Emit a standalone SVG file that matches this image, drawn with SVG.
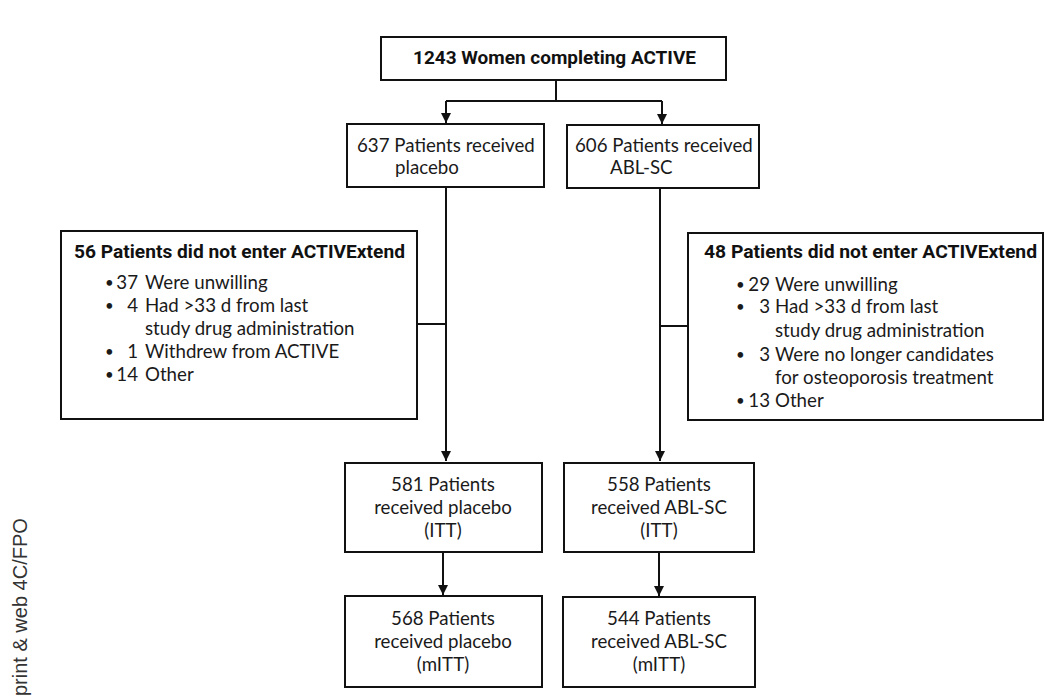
<svg xmlns="http://www.w3.org/2000/svg" width="1047" height="698" viewBox="0 0 1047 698">
<style>
.box{fill:#fff;stroke:#111;stroke-width:2}
.ln{fill:none;stroke:#111;stroke-width:2}
.t{font-family:Lato,"Open Sans","Liberation Sans",sans-serif;font-size:18.7px;fill:#1a1a1a}
.c{text-anchor:middle}
.b{font-family:Roboto,"Liberation Sans",sans-serif;font-weight:700;font-size:18.5px;fill:#111}
.e{text-anchor:end}
.dot{font-size:15px}
.side{font-family:"Liberation Sans",Arial,sans-serif;font-size:20px;fill:#333}
</style>
<defs>
<marker id="ah" viewBox="0 0 10 10" refX="10" refY="5" markerWidth="5" markerHeight="5" orient="auto" markerUnits="strokeWidth">
<path d="M0,0 L10,5 L0,10 z" fill="#111"/>
</marker>
</defs>
<rect width="1047" height="698" fill="#fff"/>
<text class="side" transform="translate(27,696) rotate(-90)">print &amp; web 4C/FPO</text>
<g id="connectors">
<path class="ln" d="M556,80 V101 M446,101 H662"/>
<path class="ln" d="M446,101 V123" marker-end="url(#ah)"/>
<path class="ln" d="M662,101 V124" marker-end="url(#ah)"/>
<path class="ln" d="M446,187 V461" marker-end="url(#ah)"/>
<path class="ln" d="M660,188 V461" marker-end="url(#ah)"/>
<path class="ln" d="M417,324 H446"/>
<path class="ln" d="M660,326 H688"/>
<path class="ln" d="M443,552 V595" marker-end="url(#ah)"/>
<path class="ln" d="M659,552 V596" marker-end="url(#ah)"/>
</g>
<g id="n_top">
<rect class="box" x="381" y="37" width="345" height="43"/>
<text class="b" x="413" y="64" textLength="283" lengthAdjust="spacingAndGlyphs">1243 Women completing ACTIVE</text>
</g>
<g id="n_placebo">
<rect class="box" x="347" y="124" width="197" height="63"/>
<text class="t" x="357" y="152">637 Patients received</text>
<text class="t" x="395" y="174">placebo</text>
</g>
<g id="n_abl">
<rect class="box" x="567" y="125" width="192" height="63"/>
<text class="t" x="575" y="152">606 Patients received</text>
<text class="t" x="610" y="174">ABL-SC</text>
</g>
<g id="n_excl_left">
<rect class="box" x="61" y="231" width="356" height="188"/>
<text class="b" x="74" y="258" textLength="331" lengthAdjust="spacingAndGlyphs">56 Patients did not enter ACTIVExtend</text>
<text class="t dot" x="105" y="288">•</text><text class="t e" x="138" y="289">37</text><text class="t" x="145" y="289">Were unwilling</text>
<text class="t dot" x="105" y="311">•</text><text class="t e" x="138" y="312">4</text><text class="t" x="145" y="312">Had &gt;33 d from last</text>
<text class="t" x="145" y="335">study drug administration</text>
<text class="t dot" x="105" y="357">•</text><text class="t e" x="138" y="358">1</text><text class="t" x="145" y="358">Withdrew from ACTIVE</text>
<text class="t dot" x="105" y="380">•</text><text class="t e" x="138" y="381">14</text><text class="t" x="145" y="381">Other</text>
</g>
<g id="n_excl_right">
<rect class="box" x="688" y="233" width="355" height="187"/>
<text class="b" x="704" y="258" textLength="333" lengthAdjust="spacingAndGlyphs">48 Patients did not enter ACTIVExtend</text>
<text class="t dot" x="736" y="290">•</text><text class="t e" x="770" y="291">29</text><text class="t" x="775" y="291">Were unwilling</text>
<text class="t dot" x="736" y="312">•</text><text class="t e" x="770" y="313">3</text><text class="t" x="775" y="313">Had &gt;33 d from last</text>
<text class="t" x="775" y="337">study drug administration</text>
<text class="t dot" x="736" y="360">•</text><text class="t e" x="770" y="361">3</text><text class="t" x="775" y="361">Were no longer candidates</text>
<text class="t" x="775" y="384">for osteoporosis treatment</text>
<text class="t dot" x="736" y="406">•</text><text class="t e" x="770" y="407">13</text><text class="t" x="775" y="407">Other</text>
</g>
<g id="n_itt_placebo">
<rect class="box" x="345" y="463" width="197" height="89"/>
<text class="t c" x="443" y="491">581 Patients</text>
<text class="t c" x="443" y="514">received placebo</text>
<text class="t c" x="443" y="537">(ITT)</text>
</g>
<g id="n_itt_abl">
<rect class="box" x="564" y="463" width="190" height="89"/>
<text class="t c" x="659" y="491">558 Patients</text>
<text class="t c" x="659" y="514">received ABL-SC</text>
<text class="t c" x="659" y="537">(ITT)</text>
</g>
<g id="n_mitt_placebo">
<rect class="box" x="345" y="596" width="197" height="91"/>
<text class="t c" x="443" y="625">568 Patients</text>
<text class="t c" x="443" y="648">received placebo</text>
<text class="t c" x="443" y="671">(mITT)</text>
</g>
<g id="n_mitt_abl">
<rect class="box" x="563" y="597" width="192" height="90"/>
<text class="t c" x="659" y="625">544 Patients</text>
<text class="t c" x="659" y="648">received ABL-SC</text>
<text class="t c" x="659" y="671">(mITT)</text>
</g>
</svg>
